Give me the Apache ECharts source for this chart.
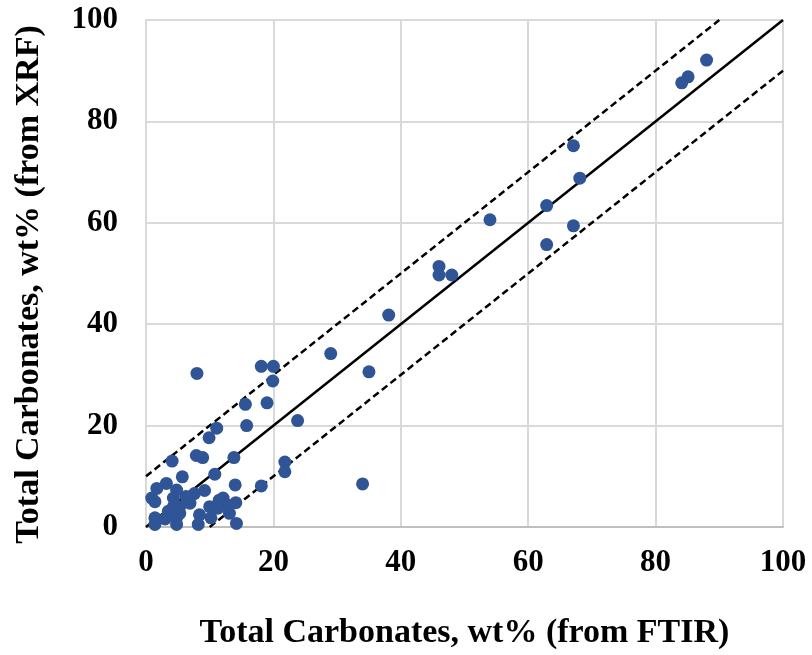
<!DOCTYPE html>
<html>
<head>
<meta charset="utf-8">
<title>Total Carbonates</title>
<script src="https://cdn.jsdelivr.net/npm/echarts@6/dist/echarts.min.js"></script>
<style>
  html,body{margin:0;padding:0;background:#fff;}
  #main{width:812px;height:655px;}
</style>
</head>
<body>
<div id="main"></div>
<script>
// FTIR (x) vs XRF (y), wt%
var ftir = [88.0,85.1,84.1,67.1,68.1,62.9,67.1,62.9,54.0,46.0,46.0,48.0,38.1,29.0,35.0,34.0,
  8.0,18.1,20.0,19.9,15.6,19.0,15.8,23.8,11.1,9.9,7.9,8.9,4.1,13.8,21.8,21.8,10.8,14.0,18.1,
  5.7,3.2,1.7,0.9,1.4,4.8,9.2,7.6,6.3,4.3,4.3,5.3,6.9,12.1,10.0,11.3,12.7,14.1,8.4,10.2,13.1,
  1.4,3.0,4.8,1.4,4.8,8.2,14.2,3.5,5.3,11.5];
var xrf = [92.1,88.8,87.6,75.2,68.8,63.4,59.4,55.7,60.6,51.4,49.7,49.7,41.8,34.2,30.6,8.5,
  30.3,31.7,31.7,28.8,24.2,24.5,20.0,21.0,19.5,17.6,14.1,13.7,13.0,13.7,12.8,10.9,10.4,8.3,8.1,
  9.9,8.6,7.6,5.7,5.0,7.3,7.2,6.6,6.0,5.7,4.0,4.0,4.7,5.7,4.0,3.7,4.4,4.8,2.4,1.8,2.7,
  1.8,1.6,1.8,0.5,0.5,0.5,0.7,3.1,2.7,5.3];
var oneToOne = [[0,0],[100,100]];
var upperBand = [[0,10],[90,100]];
var lowerBand = [[10,0],[100,90]];
var ticks = [0,20,40,60,80,100];

var points = ftir.map(function(v,i){ return [v, xrf[i]]; });
var font = '"Liberation Serif","Times New Roman",serif';

var chart = echarts.init(document.getElementById('main'));
chart.setOption({
  animation:false,
  grid:{left:146,right:29,top:20,bottom:124},
  xAxis:{
    type:'value',min:ticks[0],max:ticks[ticks.length-1],interval:20,
    name:'Total Carbonates, wt% (from FTIR)',nameLocation:'middle',nameGap:89,
    nameTextStyle:{fontFamily:font,fontWeight:'bold',fontSize:34,color:'#000'},
    axisLine:{lineStyle:{color:'#bfbfbf',width:2}},
    axisTick:{show:false},
    axisLabel:{fontFamily:font,fontWeight:'bold',fontSize:31,color:'#000',margin:20},
    splitLine:{lineStyle:{color:'#d9d9d9',width:2}}
  },
  yAxis:{
    type:'value',min:ticks[0],max:ticks[ticks.length-1],interval:20,
    name:'Total Carbonates, wt% (from XRF)',nameLocation:'middle',nameGap:100,
    nameTextStyle:{fontFamily:font,fontWeight:'bold',fontSize:34,color:'#000',padding:[0,22,0,0]},
    axisLine:{show:true,lineStyle:{color:'#d9d9d9',width:2}},
    axisTick:{show:false},
    axisLabel:{fontFamily:font,fontWeight:'bold',fontSize:31,color:'#000',margin:28},
    splitLine:{lineStyle:{color:'#d9d9d9',width:2}}
  },
  series:[
    {type:'line',data:oneToOne,symbol:'none',lineStyle:{color:'#000',width:2.5},z:3},
    {type:'line',data:upperBand,symbol:'none',lineStyle:{color:'#000',width:2.5,type:[7,4]},z:3},
    {type:'line',data:lowerBand,symbol:'none',lineStyle:{color:'#000',width:2.5,type:[7,4]},z:3},
    {type:'scatter',data:points,symbolSize:13,itemStyle:{color:'#2f5597',opacity:1},z:4}
  ]
});
</script>
</body>
</html>
